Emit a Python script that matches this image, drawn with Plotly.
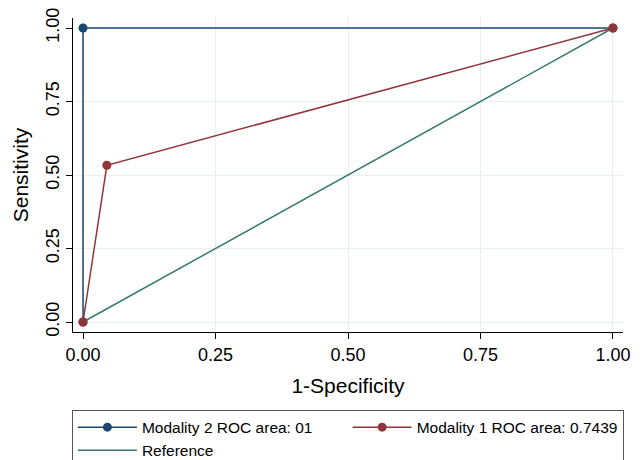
import plotly.graph_objects as go

# Data
mod2_x = [0.0, 0.0, 1.0]
mod2_y = [0.0, 1.0, 1.0]
mod1_x = [0.0, 0.045, 1.0]
mod1_y = [0.0, 0.533, 1.0]
ref_x = [0.0, 1.0]
ref_y = [0.0, 1.0]
tick_vals = [0, 0.25, 0.5, 0.75, 1.0]
tick_text = ["0.00", "0.25", "0.50", "0.75", "1.00"]

NAVY = "#1a476f"
MAROON = "#90353b"
TEAL = "#367a6e"
GRID = "#e8f0f2"
FONT = "Arial, Liberation Sans, sans-serif"

fig = go.Figure()
fig.add_trace(go.Scatter(x=ref_x, y=ref_y, mode="lines", name="Reference",
                         line=dict(color=TEAL, width=1.5), legendrank=3))
fig.add_trace(go.Scatter(x=mod2_x, y=mod2_y, mode="lines+markers",
                         name="Modality 2 ROC area: 01",
                         line=dict(color=NAVY, width=1.5),
                         marker=dict(color=NAVY, size=9), legendrank=1))
fig.add_trace(go.Scatter(x=mod1_x, y=mod1_y, mode="lines+markers",
                         name="Modality 1 ROC area: 0.7439",
                         line=dict(color=MAROON, width=1.5),
                         marker=dict(color=MAROON, size=9), legendrank=2))

axis_common = dict(
    tickmode="array", tickvals=tick_vals, ticktext=tick_text,
    showgrid=True, gridcolor=GRID, gridwidth=1,
    zeroline=False, showline=True, linecolor="#000000", linewidth=1,
    ticks="outside", ticklen=6, tickcolor="#000000", tickwidth=1,
    tickfont=dict(family=FONT, size=18, color="#000000"),
    automargin=False, ticklabeloverflow="allow",
)

fig.update_layout(
    width=642, height=460,
    margin=dict(l=65, r=27, t=10, b=136, autoexpand=False),
    paper_bgcolor="white", plot_bgcolor="white",
    font=dict(family=FONT, color="#000000"),
    xaxis=dict(range=[-0.0189, 1.0189], title=dict(text="1-Specificity",
               font=dict(family=FONT, size=21), standoff=14), **axis_common),
    yaxis=dict(range=[-0.034, 1.034], tickangle=-90,
               title=dict(text="Sensitivity", font=dict(family=FONT, size=21), standoff=8),
               **axis_common),
    legend=dict(orientation="h", x=-0.002, xanchor="left", y=-0.247, yanchor="top",
                bordercolor="#555555", borderwidth=1, bgcolor="white",
                font=dict(family=FONT, size=15.5), itemwidth=59,
                traceorder="normal", tracegroupgap=0),
    showlegend=True,
)

fig.write_html("out.html")
